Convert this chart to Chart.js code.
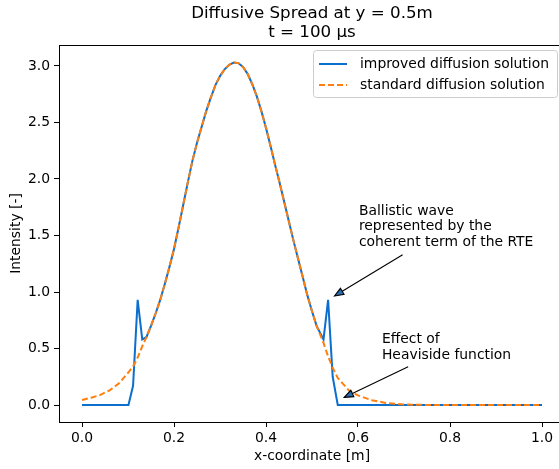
<!DOCTYPE html>
<html>
<head>
<meta charset="utf-8">
<script src="https://cdn.jsdelivr.net/npm/chart.js@4/dist/chart.umd.min.js"></script>
<style>
  html, body { margin: 0; padding: 0; background: #fff; overflow: hidden; }
  #wrap { width: 570px; height: 469px; }
</style>
</head>
<body>
<div id="wrap"><canvas id="chartSpread" width="570" height="469"></canvas></div>
<script>
// values
const xValues = [0, 0.02, 0.04, 0.06, 0.08, 0.101, 0.111, 0.121, 0.131,
  0.14, 0.15, 0.16, 0.17, 0.18, 0.19, 0.20, 0.21, 0.22, 0.23, 0.24, 0.25, 0.26,
  0.27, 0.28, 0.29, 0.30, 0.31, 0.32, 0.33, 0.34, 0.35, 0.36, 0.37, 0.38, 0.39,
  0.40, 0.41, 0.42, 0.43, 0.44, 0.45, 0.46, 0.47, 0.48, 0.49, 0.50, 0.51,
  0.525, 0.535, 0.545, 0.556, 0.58, 0.60, 0.63, 0.66, 0.70, 0.75, 0.80, 0.90, 1.0];
const improvedValues = [0, 0, 0, 0, 0, 0, 0.17, 0.93, 0.58,
  0.60, 0.70, 0.81, 0.93, 1.07, 1.22, 1.38, 1.57, 1.77, 1.97, 2.16, 2.32, 2.46,
  2.60, 2.72, 2.83, 2.91, 2.97, 3.01, 3.03, 3.025, 2.99, 2.93, 2.84, 2.73, 2.60,
  2.45, 2.29, 2.12, 1.96, 1.79, 1.62, 1.45, 1.29, 1.13, 0.97, 0.83, 0.70,
  0.58, 0.93, 0.25, 0, 0, 0, 0, 0, 0, 0, 0, 0, 0];
const standardValues = [0.044, 0.065, 0.09, 0.13, 0.19, 0.29, 0.34, 0.42, 0.52,
  0.60, 0.70, 0.81, 0.93, 1.07, 1.22, 1.38, 1.57, 1.77, 1.97, 2.16, 2.32, 2.46,
  2.60, 2.72, 2.83, 2.91, 2.97, 3.01, 3.03, 3.025, 2.99, 2.93, 2.84, 2.73, 2.60,
  2.45, 2.29, 2.12, 1.96, 1.79, 1.62, 1.45, 1.29, 1.13, 0.97, 0.83, 0.70,
  0.55, 0.43, 0.33, 0.24, 0.13, 0.085, 0.043, 0.019, 0.005, 0.001, 0, 0, 0];
const seriesLabels = ['improved diffusion solution', 'standard diffusion solution'];
const xTicks = [0, 0.2, 0.4, 0.6, 0.8, 1.0];
const yTicks = [0, 0.5, 1.0, 1.5, 2.0, 2.5, 3.0];
const titleLines = ['Diffusive Spread at y = 0.5m', 't = 100 µs'];
const annotations = [
  { lines: ['Ballistic wave', 'represented by the', 'coherent term of the RTE'], textX: 0.602, textY: 1.78, from: [0.697, 1.33], to: [0.549, 0.965] },
  { lines: ['Effect of', 'Heaviside function'], textX: 0.652, textY: 0.645, from: [0.709, 0.338], to: [0.570, 0.068] }
];

const FONT = 'DejaVu Sans';
const blue = '#0b6fce';
const orange = '#ff7f0e';

const toPoints = ys => xValues.map((x, i) => ({ x: x, y: ys[i] }));

// title, legend box, top/right spines, annotations
const decorPlugin = {
  id: 'decor',
  afterDraw(chart) {
    const ctx = chart.ctx;
    const a = chart.chartArea;
    const xs = chart.scales.x, ys = chart.scales.y;
    ctx.save();

    ctx.strokeStyle = '#000';
    ctx.lineWidth = 1;
    ctx.strokeRect(a.left + 0.5, a.top + 0.5, a.right - a.left, a.bottom - a.top);

    ctx.fillStyle = '#000';
    ctx.font = '16.7px "' + FONT + '"';
    ctx.textAlign = 'center';
    ctx.textBaseline = 'middle';
    const cx = (a.left + a.right) / 2;
    titleLines.forEach((t, i) => ctx.fillText(t, cx, 14 + i * 19));

    // legend
    const lx = 313, ly = 50, lw = 244, lh = 47;
    ctx.beginPath();
    ctx.roundRect(lx + 0.5, ly + 0.5, lw, lh, 3);
    ctx.fillStyle = 'rgba(255,255,255,0.8)';
    ctx.fill();
    ctx.strokeStyle = '#cccccc';
    ctx.stroke();
    ctx.font = '13.9px "' + FONT + '"';
    ctx.textAlign = 'left';
    chart.data.datasets.forEach((ds, i) => {
      const yy = 64 + i * 21;
      ctx.beginPath();
      ctx.strokeStyle = ds.borderColor;
      ctx.lineWidth = ds.borderWidth;
      ctx.setLineDash(ds.borderDash || []);
      ctx.moveTo(319, yy);
      ctx.lineTo(347, yy);
      ctx.stroke();
      ctx.setLineDash([]);
      ctx.fillStyle = '#000';
      ctx.fillText(ds.label, 360, yy);
    });

    // annotations with arrows
    annotations.forEach(an => {
      const tx = xs.getPixelForValue(an.textX);
      const ty = ys.getPixelForValue(an.textY);
      ctx.fillStyle = '#000';
      an.lines.forEach((l, i) => ctx.fillText(l, tx, ty + 7.5 + i * 15.5));
      const x0 = xs.getPixelForValue(an.from[0]), y0 = ys.getPixelForValue(an.from[1]);
      const x1 = xs.getPixelForValue(an.to[0]), y1 = ys.getPixelForValue(an.to[1]);
      const ang = Math.atan2(y1 - y0, x1 - x0);
      const hl = 9, hw = 3.5;
      const bx = x1 - hl * Math.cos(ang), by = y1 - hl * Math.sin(ang);
      ctx.beginPath();
      ctx.strokeStyle = '#000';
      ctx.lineWidth = 1.1;
      ctx.moveTo(x0, y0);
      ctx.lineTo(bx, by);
      ctx.stroke();
      ctx.beginPath();
      ctx.moveTo(x1, y1);
      ctx.lineTo(bx + hw * Math.sin(ang), by - hw * Math.cos(ang));
      ctx.lineTo(bx - hw * Math.sin(ang), by + hw * Math.cos(ang));
      ctx.closePath();
      ctx.fillStyle = '#2b6cb0';
      ctx.fill();
      ctx.stroke();
    });
    ctx.restore();
  }
};

new Chart(document.getElementById('chartSpread'), {
  type: 'line',
  data: {
    datasets: [
      { label: seriesLabels[0], data: toPoints(improvedValues), borderColor: blue, borderWidth: 2, pointRadius: 0, tension: 0, order: 1 },
      { label: seriesLabels[1], data: toPoints(standardValues), borderColor: orange, borderWidth: 2, borderDash: [6, 3], pointRadius: 0, tension: 0, order: 0 }
    ]
  },
  options: {
    responsive: false,
    animation: false,
    devicePixelRatio: 1,
    layout: { padding: { top: 45, right: 5, left: 0, bottom: 0 } },
    plugins: { legend: { display: false }, title: { display: false }, tooltip: { enabled: false } },
    scales: {
      x: {
        type: 'linear', min: -0.05, max: 1.05,
        afterBuildTicks: s => { s.ticks = xTicks.map(v => ({ value: v })); },
        afterFit: s => { s.height = 47; },
        ticks: { color: '#000', padding: 3, maxRotation: 0, font: { family: FONT, size: 13.9 }, callback: v => v.toFixed(1) },
        grid: { drawOnChartArea: false, drawTicks: true, tickLength: 5, color: '#000' },
        border: { display: true, color: '#000', width: 1 },
        title: { display: true, text: 'x-coordinate [m]', color: '#000', font: { family: FONT, size: 13.9, lineHeight: 1.2 }, padding: { top: 0, bottom: 4 } }
      },
      y: {
        type: 'linear', min: -0.15, max: 3.185,
        afterBuildTicks: s => { s.ticks = yTicks.map(v => ({ value: v })); },
        afterFit: s => { s.width = 59; },
        ticks: { color: '#000', padding: 4, font: { family: FONT, size: 13.9 }, callback: v => v.toFixed(1) },
        grid: { drawOnChartArea: false, drawTicks: true, tickLength: 5, color: '#000' },
        border: { display: true, color: '#000', width: 1 },
        title: { display: true, text: 'Intensity [-]', color: '#000', font: { family: FONT, size: 13.9, lineHeight: 1.2 }, padding: { top: 8, bottom: 0 } }
      }
    }
  },
  plugins: [decorPlugin]
});
</script>
</body>
</html>
